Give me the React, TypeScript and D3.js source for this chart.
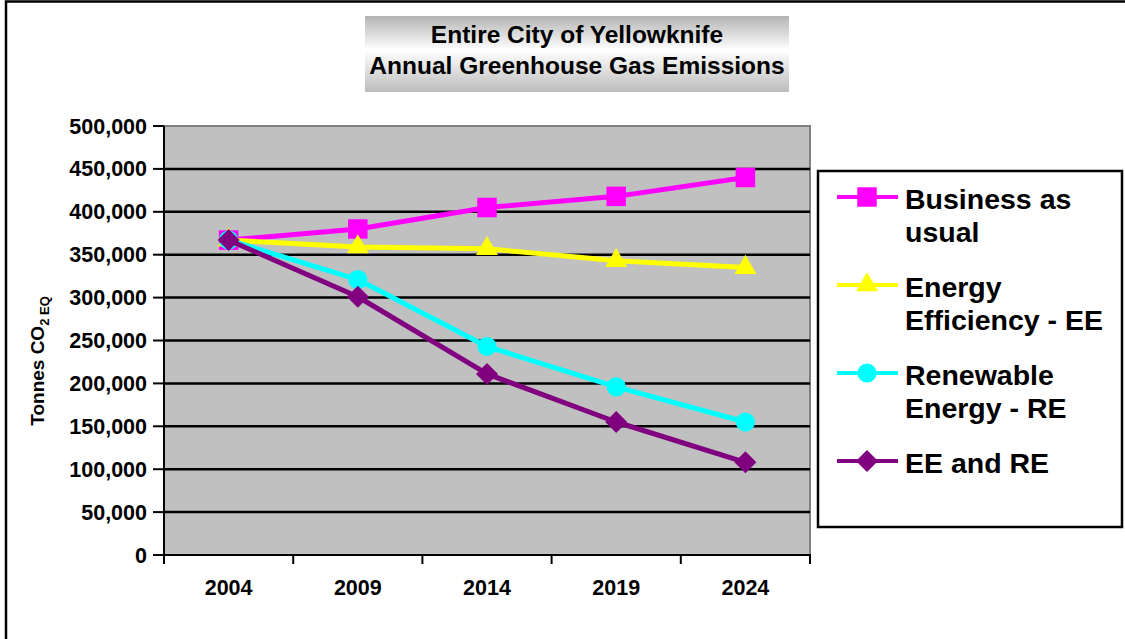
import React from 'react';
import { select, scaleBand, scaleLinear, line, symbol, symbolSquare, symbolTriangle, symbolCircle, format, range } from 'd3';

const years = ['2004', '2009', '2014', '2019', '2024'];
const businessAsUsual = [367000, 380000, 405000, 418000, 440000];
const energyEfficiency = [367000, 359000, 357000, 343000, 335000];
const renewableEnergy = [367000, 321000, 243000, 196000, 155000];
const eeAndRe = [367000, 301000, 211000, 155000, 108000];
const yTicks = [0, 50000, 100000, 150000, 200000, 250000, 300000, 350000, 400000, 450000, 500000];
const titleLines = ['Entire City of Yellowknife', 'Annual Greenhouse Gas Emissions'];

const series = [
    { name: ['Business as', 'usual'], values: businessAsUsual, color: '#FF00FF', marker: 'square' },
    { name: ['Energy', 'Efficiency - EE'], values: energyEfficiency, color: '#FFFF00', marker: 'triangle' },
    { name: ['Renewable', 'Energy - RE'], values: renewableEnergy, color: '#00FFFF', marker: 'circle' },
    { name: ['EE and RE'], values: eeAndRe, color: '#800080', marker: 'diamond' },
];

const dims = {
    width: 1125,
    height: 639,
    left: 164,
    right: 810,
    top: 126,
    bottom: 555,
};

const font = "Arial, 'Liberation Sans', sans-serif";

const markerPath = (kind: string) => {
    if (kind === 'square') return symbol(symbolSquare, 380)();
    if (kind === 'triangle') return symbol(symbolTriangle, 210)();
    if (kind === 'circle') return symbol(symbolCircle, 290)();
    // regular diamond
    return 'M0,-11L11,0L0,11L-11,0Z';
};

const App: React.FC = () => {
    const svgRef = React.useRef<SVGSVGElement>(null);

    React.useEffect(() => {
        const svg = select(svgRef.current);
        svg.selectAll('*').remove();

        const x = scaleBand().domain(years).range([dims.left, dims.right]).padding(0);
        const y = scaleLinear().domain([0, 500000]).range([dims.bottom, dims.top]);
        const cx = (d: string) => (x(d) as number) + x.bandwidth() / 2;

        // outer chart border
        svg.append('rect')
            .attr('x', 6).attr('y', 1.5)
            .attr('width', 1200).attr('height', 700)
            .attr('fill', 'white').attr('stroke', 'black').attr('stroke-width', 2.5);

        // title box
        const defs = svg.append('defs');
        const grad = defs.append('linearGradient').attr('id', 'titleGrad')
            .attr('x1', 0).attr('y1', 0).attr('x2', 0).attr('y2', 1);
        grad.append('stop').attr('offset', '0%').attr('stop-color', '#b4b4b4');
        grad.append('stop').attr('offset', '45%').attr('stop-color', '#ffffff');
        grad.append('stop').attr('offset', '100%').attr('stop-color', '#bcbcbc');

        svg.append('rect')
            .attr('x', 365).attr('y', 16).attr('width', 424).attr('height', 76)
            .attr('fill', 'url(#titleGrad)');
        svg.append('g').selectAll('text').data(titleLines).join('text')
            .attr('x', 577).attr('y', (_, i) => 43 + i * 31)
            .attr('text-anchor', 'middle')
            .attr('font-family', font).attr('font-weight', 'bold').attr('font-size', 24.5)
            .text(d => d);

        // plot area
        svg.append('rect')
            .attr('x', dims.left).attr('y', dims.top)
            .attr('width', dims.right - dims.left).attr('height', dims.bottom - dims.top)
            .attr('fill', '#C0C0C0').attr('stroke', '#808080').attr('stroke-width', 2);

        // gridlines
        svg.append('g').selectAll('line').data(yTicks.filter(t => t > 0 && t < 500000)).join('line')
            .attr('x1', dims.left).attr('x2', dims.right)
            .attr('y1', d => y(d)).attr('y2', d => y(d))
            .attr('stroke', 'black').attr('stroke-width', 2.5);

        // axes
        const axes = svg.append('g').attr('stroke', 'black').attr('stroke-width', 2);
        axes.append('line').attr('x1', dims.left).attr('x2', dims.left).attr('y1', dims.top).attr('y2', dims.bottom + 1);
        axes.append('line').attr('x1', dims.left - 1).attr('x2', dims.right + 1).attr('y1', dims.bottom).attr('y2', dims.bottom);
        axes.selectAll('.ytick').data(yTicks).join('line').attr('class', 'ytick')
            .attr('x1', dims.left - 11).attr('x2', dims.left)
            .attr('y1', d => y(d)).attr('y2', d => y(d));
        const bounds = range(years.length + 1).map(i => dims.left + i * x.bandwidth());
        axes.selectAll('.xtick').data(bounds).join('line').attr('class', 'xtick')
            .attr('x1', d => d).attr('x2', d => d)
            .attr('y1', dims.bottom).attr('y2', dims.bottom + 9);

        const fmt = format(',');
        svg.append('g').selectAll('text').data(yTicks).join('text')
            .attr('x', 147).attr('y', d => y(d) + 7.5)
            .attr('text-anchor', 'end')
            .attr('font-family', font).attr('font-weight', 'bold').attr('font-size', 21.5)
            .text(d => fmt(d));

        svg.append('g').selectAll('text').data(years).join('text')
            .attr('x', d => cx(d)).attr('y', 595)
            .attr('text-anchor', 'middle')
            .attr('font-family', font).attr('font-weight', 'bold').attr('font-size', 21.5)
            .text(d => d);

        // y axis title
        const yt = svg.append('text')
            .attr('transform', 'translate(44,361) rotate(-90)')
            .attr('text-anchor', 'middle')
            .attr('font-family', font).attr('font-weight', 'bold').attr('font-size', 19);
        yt.append('tspan').text('Tonnes CO');
        yt.append('tspan').attr('font-size', 13).attr('dy', 5).text('2 EQ');

        // series
        const lineGen = line<number>()
            .x((_, i) => cx(years[i]))
            .y(d => y(d));

        series.forEach(s => {
            const g = svg.append('g');
            g.append('path').attr('d', lineGen(s.values))
                .attr('fill', 'none').attr('stroke', s.color).attr('stroke-width', 5)
                .attr('stroke-linejoin', 'round');
            g.selectAll('path.marker').data(s.values).join('path').attr('class', 'marker')
                .attr('transform', (d, i) => `translate(${cx(years[i])},${y(d)})`)
                .attr('d', markerPath(s.marker))
                .attr('fill', s.color);
        });

        // legend
        const lg = svg.append('g');
        lg.append('rect').attr('x', 818).attr('y', 171).attr('width', 304).attr('height', 356)
            .attr('fill', 'white').attr('stroke', 'black').attr('stroke-width', 2.5);
        series.forEach((s, i) => {
            const my = 197 + i * 88;
            lg.append('line').attr('x1', 837).attr('x2', 898).attr('y1', my).attr('y2', my)
                .attr('stroke', s.color).attr('stroke-width', 4);
            lg.append('path').attr('transform', `translate(867,${my})`)
                .attr('d', markerPath(s.marker)).attr('fill', s.color);
            lg.append('g').selectAll('text').data(s.name).join('text')
                .attr('x', 905).attr('y', (_, j) => my + 12 + j * 33)
                .attr('font-family', font).attr('font-weight', 'bold').attr('font-size', 28.5)
                .text(d => d);
        });
    }, []);

    return (
        <svg ref={svgRef} width={dims.width} height={dims.height}
            style={{ position: 'absolute', left: 0, top: 0, background: 'white' }} />
    );
};

export default App;
